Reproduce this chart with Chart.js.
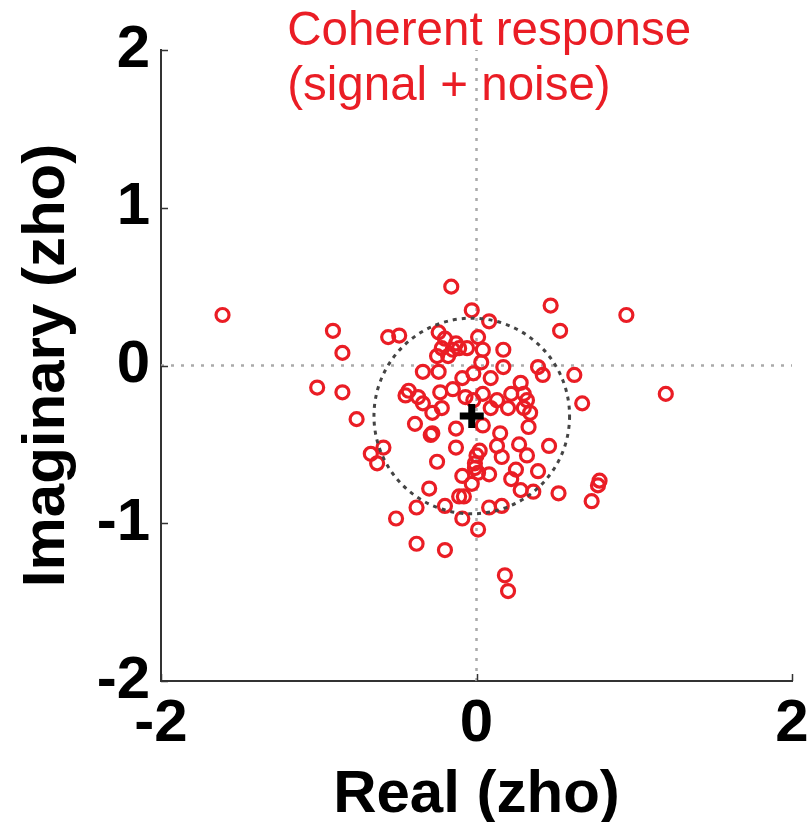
<!DOCTYPE html>
<html>
<head>
<meta charset="utf-8">
<script src="https://cdn.jsdelivr.net/npm/chart.js@4.4.1/dist/chart.umd.min.js"></script>
<style>
  body { margin: 0; background: #fff; }
  #wrap { width: 812px; height: 822px; }
</style>
</head>
<body>
<div id="wrap"><canvas id="myChart" width="812" height="822"></canvas></div>
<script>
const ctx = document.getElementById('myChart').getContext('2d');

// single-trial responses, real and imaginary parts
const realVals = [
  -1.61, -0.91, -0.85, -1.01, -0.85, -0.76, -0.67, -0.59, -0.63, -0.56,
  -0.49, -0.51, -0.38, -0.38, -0.20, -0.20, -0.30, -0.16, -0.03, 0.08,
  0.47, 0.95, 0.53, 1.20, 0.62, 0.67, 0.46, 0.52, 0.78, 0.77,
  0.73, 0.18, 0.20, 0.01, -0.09, 0.08, 0.16, -0.08, -0.11, 0.36,
  0.28, 0.22, 0.39, 0.25, 0.32, 0.16, -0.01, 0.00, 0.13, 0.27,
  0.15, 0.33, -0.13, -0.39, -0.29, -0.13, -0.25, -0.03, -0.09, 0.08,
  -0.24, -0.22, -0.13, -0.06, 0.01, -0.25, -0.18, -0.34, -0.24, -0.09,
  -0.02, -0.23, -0.15, -0.43, -0.37, -0.45, -0.07, -0.02, 0.04, 0.17,
  0.39, 0.42, 0.17, 0.03, 0.09, 0.28, 0.30, 0.32, 0.22, 0.13,
  0.04, -0.28, -0.22, -0.34, -0.28, 0.04, 0.30, 0.20, 0.09, 0.34,
  0.01, -0.11, -0.15, -0.20, 0.02, -0.01
];
const imagVals = [
  0.32, 0.22, 0.08, -0.14, -0.17, -0.34, -0.56, -0.52, -0.62, 0.18,
  0.19, -0.97, -0.90, -1.13, -1.17, -0.89, -0.78, 0.50, 0.35, 0.28,
  0.38, 0.32, 0.22, -0.18, -0.06, -0.24, -0.51, -0.81, -0.73, -0.76,
  -0.86, -1.33, -1.43, -1.04, -0.97, -0.90, -0.89, -0.83, -0.83, -0.80,
  -0.79, -0.72, -0.67, -0.66, -0.57, -0.58, -0.62, -0.57, -0.51, -0.50,
  -0.43, -0.39, -0.40, -0.37, -0.44, -0.52, -0.61, -0.75, -0.70, -0.69,
  0.21, 0.11, 0.14, 0.11, 0.18, 0.06, 0.06, -0.04, -0.04, -0.08,
  -0.05, -0.17, -0.15, -0.16, -0.20, -0.19, -0.20, -0.22, 0.10, 0.10,
  -0.01, -0.06, -0.01, 0.02, -0.08, -0.11, -0.18, -0.22, -0.18, -0.22,
  -0.18, -0.43, -0.27, -0.24, -0.30, -0.38, -0.27, -0.27, -0.27, -0.30,
  -0.68, 0.11, 0.10, 0.17, -0.54, -0.65
];

// mean response and the radius of the noise circle around it
const meanReal = -0.03;
const meanImag = -0.32;
const noiseRadius = 0.62;

const xTicks = [-2, 0, 2];
const yTicks = [-2, -1, 0, 1, 2];
const titleLines = ['Coherent response', '(signal + noise)'];

const red = '#ea1d25';
const axisFont = { family: 'Liberation Sans', size: 60, weight: 'bold', lineHeight: 1 };

let points = [];
for (let i = 0; i < realVals.length; i++) {
  points.push({ x: realVals[i], y: imagVals[i] });
}

// dashed circle, short inward ticks and the red caption
const extras = {
  id: 'extras',
  afterDatasetsDraw(chart) {
    const c = chart.ctx;
    const xs = chart.scales.x;
    const ys = chart.scales.y;
    const cx = xs.getPixelForValue(meanReal);
    const cy = ys.getPixelForValue(meanImag);
    const rx = xs.getPixelForValue(meanReal + noiseRadius) - cx;
    const ry = cy - ys.getPixelForValue(meanImag + noiseRadius);
    c.save();
    c.strokeStyle = '#444';
    c.lineWidth = 3;
    c.setLineDash([4, 5]);
    c.beginPath();
    c.ellipse(cx, cy, rx, ry, 0, 0, Math.PI * 2);
    c.stroke();
    c.restore();
  },
  afterDraw(chart) {
    const c = chart.ctx;
    const xs = chart.scales.x;
    const ys = chart.scales.y;
    const area = chart.chartArea;
    c.save();
    c.strokeStyle = '#333';
    c.lineWidth = 1.5;
    c.beginPath();
    xTicks.forEach((v) => {
      const px = Math.round(xs.getPixelForValue(v)) + 0.5;
      c.moveTo(px, area.bottom);
      c.lineTo(px, area.bottom - 7);
    });
    yTicks.forEach((v) => {
      const py = Math.round(ys.getPixelForValue(v)) + 0.5;
      c.moveTo(area.left, py);
      c.lineTo(area.left + 7, py);
    });
    c.stroke();

    c.fillStyle = red;
    c.font = '47.5px "Liberation Sans"';
    c.textAlign = 'left';
    c.textBaseline = 'alphabetic';
    const tx = xs.getPixelForValue(-1.2);
    c.fillText(titleLines[0], tx, area.top - 5);
    c.fillText(titleLines[1], tx, area.top + 50);
    c.restore();
  }
};

const myChart = new Chart(ctx, {
  type: 'scatter',
  data: {
    datasets: [
      {
        label: 'mean',
        data: [{ x: meanReal, y: meanImag }],
        pointStyle: 'cross',
        pointRadius: 12,
        pointBorderWidth: 7,
        pointBorderColor: '#000',
        pointBackgroundColor: '#000',
      },
      {
        label: 'trials',
        data: points,
        pointStyle: 'circle',
        pointRadius: 6.5,
        pointBorderWidth: 3.2,
        pointBorderColor: red,
        pointBackgroundColor: 'rgba(0,0,0,0)',
      },
      {
        label: 'zero real',
        data: [{ x: -2, y: 0 }, { x: 2, y: 0 }],
        showLine: true,
        pointRadius: 0,
        borderColor: '#aaa',
        borderWidth: 2.5,
        borderDash: [3, 7],
      },
      {
        label: 'zero imag',
        data: [{ x: 0, y: -2 }, { x: 0, y: 2 }],
        showLine: true,
        pointRadius: 0,
        borderColor: '#aaa',
        borderWidth: 2.5,
        borderDash: [3, 7],
      },
    ],
  },
  options: {
    responsive: false,
    animation: false,
    events: [],
    layout: { padding: { top: 50, right: 20, bottom: 0, left: 0 } },
    plugins: {
      legend: { display: false },
      tooltip: { enabled: false },
    },
    scales: {
      x: {
        type: 'linear',
        min: -2,
        max: 2,
        afterBuildTicks: (scale) => { scale.ticks = xTicks.map((v) => ({ value: v })); },
        afterFit: (scale) => {
          scale.height = 141;
          scale.paddingLeft = 0;
          scale.paddingRight = 0;
        },
        ticks: { color: '#000', font: axisFont, padding: 13, maxRotation: 0 },
        grid: { display: false, drawTicks: false },
        border: { display: true, color: '#333', width: 2 },
        title: { display: true, text: 'Real (zho)', color: '#000', font: axisFont, padding: { top: 0, bottom: -3 } },
      },
      y: {
        type: 'linear',
        min: -2,
        max: 2,
        afterBuildTicks: (scale) => { scale.ticks = yTicks.map((v) => ({ value: v })); },
        afterFit: (scale) => { scale.width = 161; },
        ticks: { color: '#000', font: axisFont, padding: 11 },
        grid: { display: false, drawTicks: false },
        border: { display: true, color: '#333', width: 2 },
        title: { display: true, text: 'Imaginary (zho)', color: '#000', font: axisFont, padding: { top: 17, bottom: 0 } },
      },
    },
  },
  plugins: [extras],
});
</script>
</body>
</html>
